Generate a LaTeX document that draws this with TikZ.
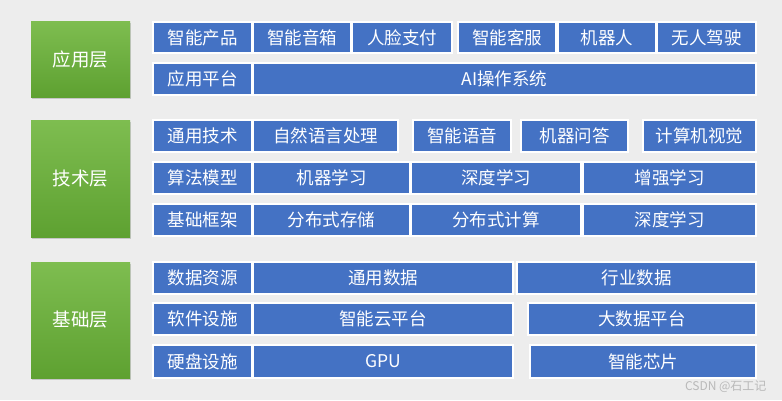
\documentclass[tikz,border=0pt]{standalone}
\usepackage{fontspec}
\setmainfont{Noto Sans CJK SC}
\usetikzlibrary{shadows}
\definecolor{cellblue}{HTML}{4472C4}
\definecolor{greentop}{HTML}{7EBD50}
\definecolor{greenbot}{HTML}{5EA131}
\definecolor{paper}{HTML}{EDEDED}
\tikzset{
    cell/.style={fill=cellblue,draw=white,line width=1.3pt,text=white,inner sep=0pt,
        font=\fontsize{17.5}{20}\selectfont},
    layer/.style={top color=greentop,bottom color=greenbot,draw=none,text=white,
        minimum width=99pt,minimum height={#1},inner sep=0pt,font=\fontsize{18.5}{21}\selectfont,
        drop shadow={opacity=0.35,shadow xshift=1pt,shadow yshift=-1.5pt}}
}
\newcommand\cell[6]{\node[cell,minimum width={#4-#2},minimum height={#5-#3}](#1)at({(#2+#4)/2},{(#3+#5)/2}){#6};}
\begin{document}
\begin{tikzpicture}[x=1pt,y=-1pt]
                \fill[paper](0,0)rectangle(782,400);
                \node[layer=76](appL)at(80.5,59){应用层};
                \node[layer=117](techL)at(80.5,178.5){技术层};
                \node[layer=116](baseL)at(80.5,320){基础层};
                \cell{prod}{153}{22}{252}{53}{智能产品}
                \cell{speaker}{253}{22}{351}{53}{智能音箱}
                \cell{facepay}{352}{22}{452}{53}{人脸支付}
                \cell{service}{458}{22}{556}{53}{智能客服}
                \cell{robot}{558}{22}{656}{53}{机器人}
                \cell{drive}{657}{22}{756}{53}{无人驾驶}
                \cell{appplat}{153}{63}{252}{95}{应用平台}
                \cell{aios}{253}{63}{756}{95}{AI操作系统}
                \cell{general}{153}{120}{252}{152}{通用技术}
                \cell{nlp}{253}{120}{398}{152}{自然语言处理}
                \cell{voice}{413}{120}{511}{152}{智能语音}
                \cell{qa}{521}{120}{628}{152}{机器问答}
                \cell{vision}{643}{120}{756}{152}{计算机视觉}
                \cell{algo}{153}{162}{252}{194}{算法模型}
                \cell{ml}{253}{162}{410}{194}{机器学习}
                \cell{dl}{411}{162}{581}{194}{深度学习}
                \cell{rl}{583}{162}{756}{194}{增强学习}
                \cell{frame}{153}{204}{252}{236}{基础框架}
                \cell{dstore}{253}{204}{410}{236}{分布式存储}
                \cell{dcomp}{411}{204}{581}{236}{分布式计算}
                \cell{dlb}{583}{204}{756}{236}{深度学习}
                \cell{datares}{153}{262}{252}{294}{数据资源}
                \cell{gdata}{253}{262}{513}{294}{通用数据}
                \cell{idata}{517}{262}{756}{294}{行业数据}
                \cell{soft}{153}{303}{252}{335}{软件设施}
                \cell{cloud}{253}{303}{513}{335}{智能云平台}
                \cell{bigdata}{528}{303}{756}{335}{大数据平台}
                \cell{hard}{153}{345}{252}{378}{硬盘设施}
                \cell{gpu}{253}{345}{513}{378}{GPU}
                \cell{chip}{530}{345}{756}{378}{智能芯片}
                \node[anchor=east,text=gray!55,font=\fontsize{12}{13}\selectfont](mark)at(770,387){CSDN @石工记};
            \end{tikzpicture}
\end{document}
